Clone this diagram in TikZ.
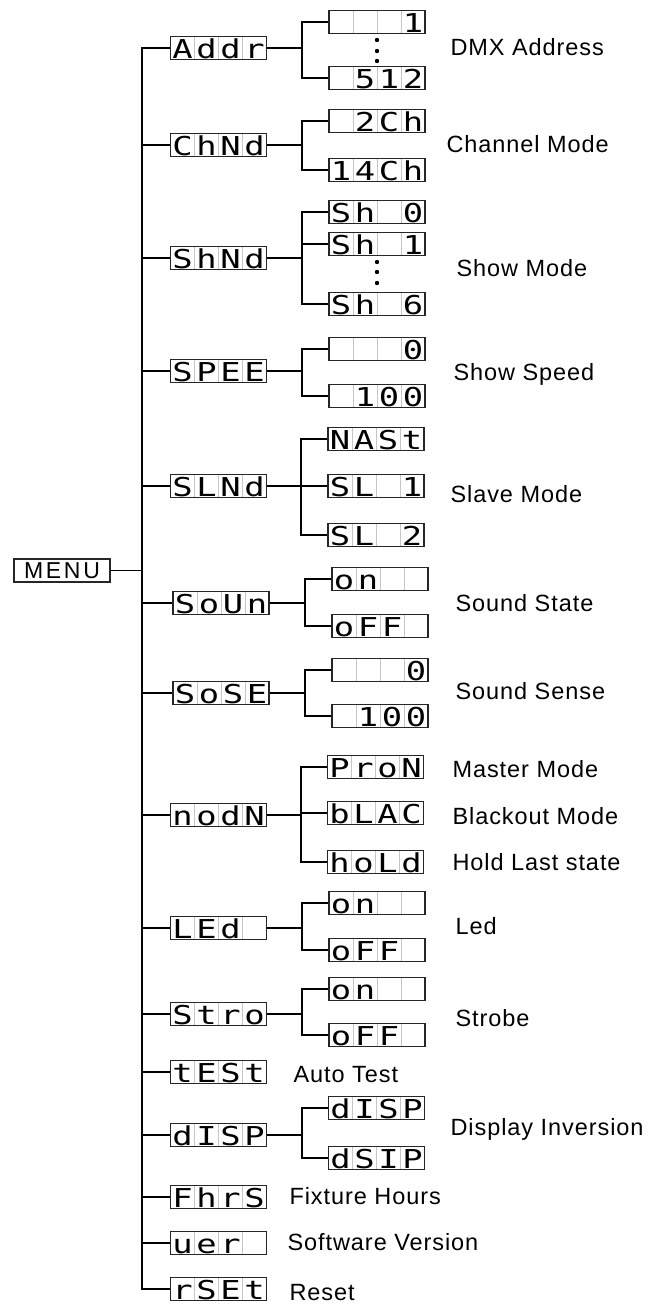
\documentclass[tikz,border=0pt]{standalone}
\usepackage{fontspec}
\setmainfont{Liberation Sans}[LetterSpace=4]
\newfontfamily\lcdfont[FakeStretch=1.3]{DejaVu Sans Mono}
\newcommand{\lcdcell}[1]{\makebox[24pt]{#1}}
\newcommand{\lcd}[4]{\lcdcell{#1}\lcdcell{#2}\lcdcell{#3}\lcdcell{#4}}
\tikzset{
  lcdbox/.style={draw=black!85, line width=1.3pt, inner sep=0pt, minimum height=23pt,
    text height=20.5pt, text depth=0pt, font=\lcdfont\fontsize{26}{26}\selectfont,
    path picture={\foreach \k in {1,2,3}
      \draw[gray!45, line width=0.9pt] ([xshift=\k*24pt]path picture bounding box.south west)
        -- ([xshift=\k*24pt]path picture bounding box.north west);}},
  menubox/.style={draw=black!85, line width=1.3pt, inner sep=0pt, minimum width=96pt,
    minimum height=23pt, font=\addfontfeature{LetterSpace=12}\fontsize{23}{23}\selectfont},
  lbl/.style={anchor=base west, font=\fontsize{23.5}{24}\selectfont},
  wire/.style={line width=1.8pt}
}
\begin{document}
\begin{tikzpicture}[x=1pt, y=-1pt]
    \useasboundingbox (0,0) rectangle (651,1304);
    \coordinate (trunk) at (142,0);
    \node[menubox] (MENU) at (62,570.5) {MENU};
    \node[lcdbox] (Addr) at (218.5,48) {\lcd{A}{d}{d}{r}};
    \node[lcdbox] (ChNd) at (218.5,145) {\lcd{C}{h}{N}{d}};
    \node[lcdbox] (ShNd) at (218.5,258) {\lcd{S}{h}{N}{d}};
    \node[lcdbox] (SPEE) at (218.5,371) {\lcd{S}{P}{E}{E}};
    \node[lcdbox] (SLNd) at (218.5,486) {\lcd{S}{L}{N}{d}};
    \node[lcdbox] (SoUn) at (221,603) {\lcd{S}{o}{U}{n}};
    \node[lcdbox] (SoSE) at (221,693) {\lcd{S}{o}{S}{E}};
    \node[lcdbox] (nodN) at (218.5,815) {\lcd{n}{o}{d}{N}};
    \node[lcdbox] (LEd) at (218.5,928) {\lcd{L}{E}{d}{}};
    \node[lcdbox] (Stro) at (218.5,1014) {\lcd{S}{t}{r}{o}};
    \node[lcdbox] (tESt) at (218.5,1072) {\lcd{t}{E}{S}{t}};
    \node[lcdbox] (dISP) at (218.5,1135) {\lcd{d}{I}{S}{P}};
    \node[lcdbox] (FhrS) at (218.5,1197) {\lcd{F}{h}{r}{S}};
    \node[lcdbox] (uEr) at (218.5,1243) {\lcd{u}{e}{r}{}};
    \node[lcdbox] (rSEt) at (218.5,1289) {\lcd{r}{S}{E}{t}};
    \node[lcdbox] (addr1) at (377,22) {\lcd{}{}{}{1}};
    \node[lcdbox] (addr512) at (377,78) {\lcd{}{5}{1}{2}};
    \node[lcdbox] (ch2) at (377,121) {\lcd{}{2}{C}{h}};
    \node[lcdbox] (ch14) at (377,170) {\lcd{1}{4}{C}{h}};
    \node[lcdbox] (sh0) at (377,212) {\lcd{S}{h}{}{0}};
    \node[lcdbox] (sh1) at (377,244) {\lcd{S}{h}{}{1}};
    \node[lcdbox] (sh6) at (377,304) {\lcd{S}{h}{}{6}};
    \node[lcdbox] (speed0) at (377,349) {\lcd{}{}{}{0}};
    \node[lcdbox] (speed100) at (377,396) {\lcd{}{1}{0}{0}};
    \node[lcdbox] (mast) at (376,439) {\lcd{N}{A}{S}{t}};
    \node[lcdbox] (sl1) at (376,486) {\lcd{S}{L}{}{1}};
    \node[lcdbox] (sl2) at (376,535) {\lcd{S}{L}{}{2}};
    \node[lcdbox] (sndon) at (380,579) {\lcd{o}{n}{}{}};
    \node[lcdbox] (sndoff) at (380,626) {\lcd{o}{F}{F}{}};
    \node[lcdbox] (sens0) at (380,670) {\lcd{}{}{}{0}};
    \node[lcdbox] (sens100) at (380,716) {\lcd{}{1}{0}{0}};
    \node[lcdbox] (pron) at (375.5,767) {\lcd{P}{r}{o}{N}};
    \node[lcdbox] (blac) at (375.5,813) {\lcd{b}{L}{A}{C}};
    \node[lcdbox] (hold) at (375.5,862) {\lcd{h}{o}{L}{d}};
    \node[lcdbox] (ledon) at (377,903) {\lcd{o}{n}{}{}};
    \node[lcdbox] (ledoff) at (377,950) {\lcd{o}{F}{F}{}};
    \node[lcdbox] (stron) at (377,989) {\lcd{o}{n}{}{}};
    \node[lcdbox] (stroff) at (377,1035) {\lcd{o}{F}{F}{}};
    \node[lcdbox] (disp1) at (376.5,1108) {\lcd{d}{I}{S}{P}};
    \node[lcdbox] (disp2) at (376.5,1158) {\lcd{d}{S}{I}{P}};
    \draw[wire] (Addr.west) -| (trunk |- rSEt.west) -- (rSEt.west);
    \foreach \n in {ChNd,ShNd,SPEE,SLNd,SoUn,SoSE,nodN,LEd,Stro,tESt,dISP,FhrS,uEr}
        \draw[wire] (\n.west) -- (trunk |- \n.west);
    \draw[wire] (MENU.east) -- (trunk |- MENU.east);
    \foreach \p/\a/\b in {Addr/addr1/addr512, ChNd/ch2/ch14, SPEE/speed0/speed100,
        SoUn/sndon/sndoff, SoSE/sens0/sens100, LEd/ledon/ledoff, Stro/stron/stroff,
        dISP/disp1/disp2} {
        \draw[wire] (\a.west) -- ++(-26,0) coordinate (br) |- (\b.west);
        \draw[wire] (\p.east) -- (\p.east -| br);
    }
    \foreach \p/\a/\m/\b in {ShNd/sh0/sh1/sh6, SLNd/mast/sl1/sl2, nodN/pron/blac/hold} {
        \draw[wire] (\a.west) -- ++(-26,0) coordinate (br) |- (\b.west);
        \draw[wire] (\m.west) -- (\m.west -| br);
        \draw[wire] (\p.east) -- (\p.east -| br);
    }
    \foreach \y in {40,51,61} \fill (377,\y) circle (2.2pt);
    \foreach \y in {262,272,283} \fill (377,\y) circle (2.2pt);
    \node[lbl] (tDMX) at (447,55) {DMX Address};
    \node[lbl] (tCh) at (443,152) {Channel Mode};
    \node[lbl] (tShow) at (453,276) {Show Mode};
    \node[lbl] (tSpeed) at (450,380) {Show Speed};
    \node[lbl] (tSlave) at (447,502) {Slave Mode};
    \node[lbl] (tSound) at (452,611) {Sound State};
    \node[lbl] (tSense) at (452,699) {Sound Sense};
    \node[lbl] (tMaster) at (449,777) {Master Mode};
    \node[lbl] (tBlack) at (449,824) {Blackout Mode};
    \node[lbl] (tHold) at (449,870) {Hold Last state};
    \node[lbl] (tLed) at (452,934) {Led};
    \node[lbl] (tStrobe) at (452,1026) {Strobe};
    \node[lbl] (tTest) at (290,1082) {Auto Test};
    \node[lbl] (tDisp) at (447,1135) {Display Inversion};
    \node[lbl] (tHours) at (286,1204) {Fixture Hours};
    \node[lbl] (tVer) at (284,1250) {Software Version};
    \node[lbl] (tReset) at (286,1300) {Reset};
\end{tikzpicture}
\end{document}
